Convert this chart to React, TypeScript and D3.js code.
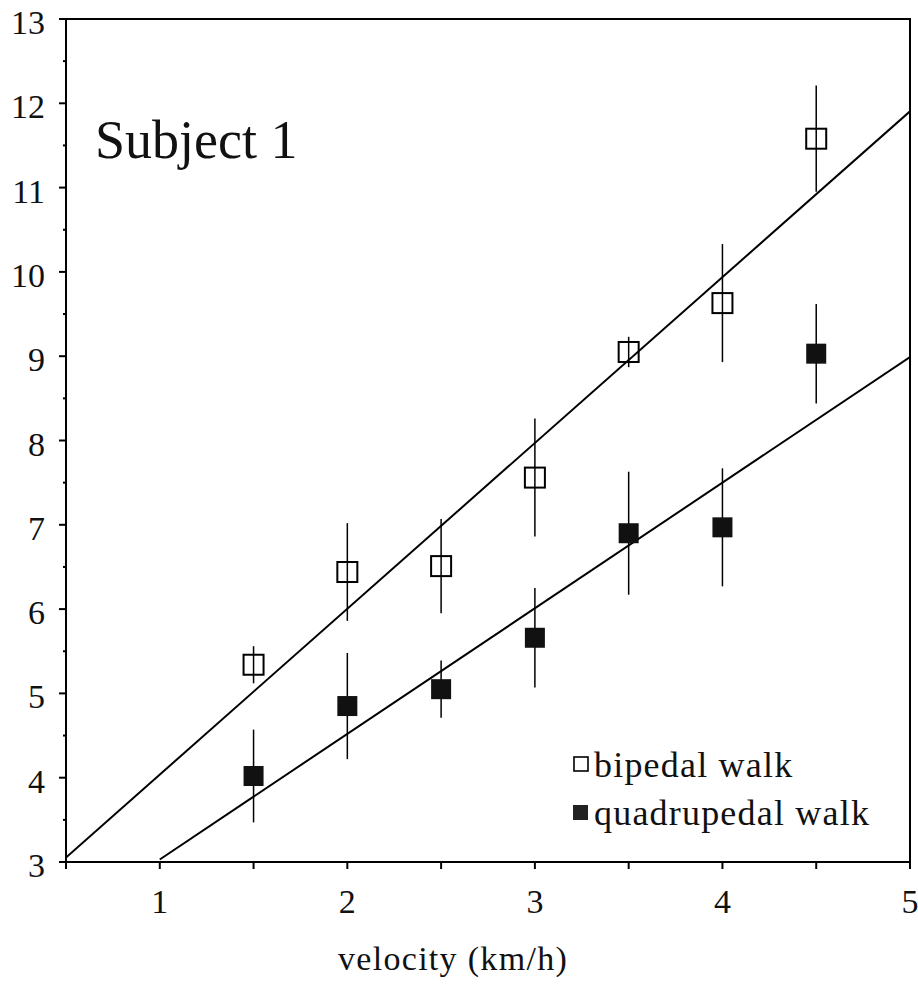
import React from "react";
import * as d3 from "d3";

const velocities = [1.5, 2, 2.5, 3, 3.5, 4, 4.5];
const bipedalMean = [5.34, 6.44, 6.51, 7.56, 9.05, 9.63, 11.58];
const bipedalErr = [0.22, 0.58, 0.56, 0.7, 0.18, 0.7, 0.63];
const quadMean = [4.02, 4.85, 5.05, 5.66, 6.9, 6.97, 9.03];
const quadErr = [0.55, 0.63, 0.34, 0.59, 0.73, 0.7, 0.59];
// regression lines: [intercept, slope, xStart, xEnd]
const bipedalFit = [2.07, 1.967, 0.5, 5];
const quadFit = [1.54, 1.49, 1, 5];
const xTickLabels = [1, 2, 3, 4, 5];
const yTickLabels = [3, 4, 5, 6, 7, 8, 9, 10, 11, 12, 13];
const xMinorTicks = [0.5, 1, 1.5, 2, 2.5, 3, 3.5, 4, 4.5, 5];
const yMinorTicks = [3.5, 4.5, 5.5, 6.5, 7.5, 8.5, 9.5, 10.5, 11.5, 12.5];
const seriesNames = ["bipedal walk", "quadrupedal walk"];
const xLabel = "velocity (km/h)";
const title = "Subject 1";

const FONT = "'Liberation Serif', 'Times New Roman', serif";

export default function App() {
  const x = d3.scaleLinear().domain([0.5, 5]).range([66, 910]);
  const y = d3.scaleLinear().domain([3, 13]).range([862, 19]);
  const line = d3
    .line<number>()
    .x((d) => x(d[0]))
    .y((d) => y(d[1]));
  const fitPts = (f: number[]) => [
    [f[2], f[0] + f[1] * f[2]],
    [f[3], f[0] + f[1] * f[3]],
  ];
  const S = 22;
  return (
    <svg
      width={918}
      height={988}
      style={{ position: "absolute", left: 0, top: 0, background: "#fff" }}
    >
      <defs>
        <clipPath id="plot">
          <rect x={66} y={19} width={844} height={843} />
        </clipPath>
      </defs>
      {/* frame */}
      <rect x={66} y={19} width={844} height={843} fill="none" stroke="#000" strokeWidth={2} />
      {/* y ticks */}
      {yTickLabels.map((v) => (
        <g key={"y" + v}>
          <line x1={59} x2={66} y1={y(v)} y2={y(v)} stroke="#000" strokeWidth={2} />
          <text
            x={45}
            y={y(v) + 15}
            textAnchor="end"
            fontFamily={FONT}
            fontSize={34}
            fill="#111"
          >
            {v}
          </text>
        </g>
      ))}
      {yMinorTicks.map((v) => (
        <line key={"ym" + v} x1={63} x2={66} y1={y(v)} y2={y(v)} stroke="#000" strokeWidth={2} />
      ))}
      {/* x ticks */}
      {xMinorTicks.map((v) => (
        <line key={"xm" + v} x1={x(v)} x2={x(v)} y1={862} y2={869} stroke="#000" strokeWidth={2} />
      ))}
      {xTickLabels.map((v) => (
        <text
          key={"x" + v}
          x={x(v)}
          y={913}
          textAnchor="middle"
          fontFamily={FONT}
          fontSize={34}
          fill="#111"
        >
          {v}
        </text>
      ))}
      <text
        x={338}
        y={970}
        fontFamily={FONT}
        fontSize={34}
        letterSpacing={1.3}
        fill="#111"
      >
        {xLabel}
      </text>
      <text x={95} y={158} fontFamily={FONT} fontSize={54} fill="#111">
        {title}
      </text>
      <g clipPath="url(#plot)">
        <path d={line(fitPts(bipedalFit) as any) || ""} stroke="#000" strokeWidth={2} fill="none" />
        <path d={line(fitPts(quadFit) as any) || ""} stroke="#000" strokeWidth={2} fill="none" />
      </g>
      {/* quadrupedal */}
      {velocities.map((v, i) => (
        <g key={"q" + i}>
          <line
            x1={x(v)}
            x2={x(v)}
            y1={y(quadMean[i] - quadErr[i])}
            y2={y(quadMean[i] + quadErr[i])}
            stroke="#000"
            strokeWidth={1.5}
          />
          <rect
            x={x(v) - 10}
            y={y(quadMean[i]) - 10}
            width={20}
            height={20}
            fill="#111"
          />
        </g>
      ))}
      {/* bipedal */}
      {velocities.map((v, i) => (
        <g key={"b" + i}>
          <line
            x1={x(v)}
            x2={x(v)}
            y1={y(bipedalMean[i] - bipedalErr[i])}
            y2={y(bipedalMean[i] + bipedalErr[i])}
            stroke="#000"
            strokeWidth={1.5}
          />
          <rect
            x={x(v) - S / 2 + 1}
            y={y(bipedalMean[i]) - S / 2 + 1}
            width={S - 2}
            height={S - 2}
            fill="none"
            stroke="#000"
            strokeWidth={2}
          />
        </g>
      ))}
      {/* legend */}
      <rect x={574} y={757} width={14} height={14} fill="none" stroke="#000" strokeWidth={1.6} />
      <text x={594} y={777} fontFamily={FONT} fontSize={36} letterSpacing={1.2} fill="#111">
        {seriesNames[0]}
      </text>
      <rect x={573} y={805} width={15} height={15} fill="#222" />
      <text x={594} y={825} fontFamily={FONT} fontSize={36} letterSpacing={1.2} fill="#111">
        {seriesNames[1]}
      </text>
    </svg>
  );
}
